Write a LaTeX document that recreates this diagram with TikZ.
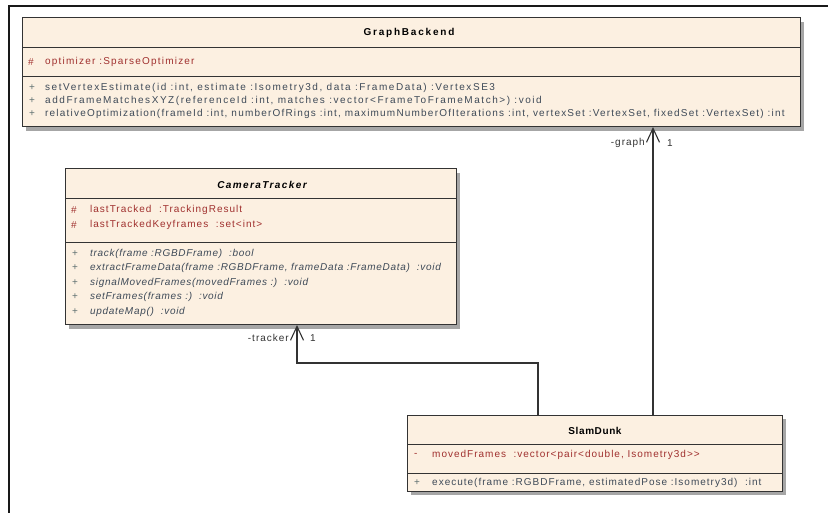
\documentclass[tikz,border=0pt]{standalone}
\usepackage{fontspec}
\setmainfont{Liberation Sans}
\newfontfamily\umlfont[LetterSpace=10]{Liberation Sans}
\newfontfamily\umlwidefont[LetterSpace=12]{Liberation Sans}
\newfontfamily\umlwiderfont[LetterSpace=15.5]{Liberation Sans}
\newfontfamily\umlitfont[LetterSpace=7]{Liberation Sans}
\newfontfamily\umltitlefont[LetterSpace=18]{Liberation Sans}
\newfontfamily\umlittitlefont[LetterSpace=14]{Liberation Sans}
\newfontfamily\umlsmalltitlefont[LetterSpace=6]{Liberation Sans}
\usetikzlibrary{arrows.meta,shadows}
\definecolor{classfill}{HTML}{FCF0E1}
\definecolor{classedge}{HTML}{333333}
\definecolor{attrtext}{HTML}{A0302E}
\definecolor{optext}{HTML}{3E4A58}
\definecolor{vistext}{HTML}{5E7070}
\tikzset{
  classbox/.style={draw=classedge, fill=classfill, line width=1pt, inner sep=0pt,
    outer sep=0pt, anchor=north west,
    drop shadow={shadow xshift=4pt, shadow yshift=-4pt, fill=black!35, opacity=1}},
  divider/.style={draw=classedge, line width=1pt},
  txt/.style={inner sep=0pt, anchor=west, font=\umlfont\fontsize{10}{12}\selectfont},
  wtxt/.style={txt, font=\umlwidefont\fontsize{10}{12}\selectfont},
  wwtxt/.style={txt, font=\umlwiderfont\fontsize{10}{12}\selectfont},
  itxt/.style={txt, font=\umlitfont\fontsize{10}{12}\selectfont\itshape},
  title/.style={inner sep=0pt, font=\umltitlefont\fontsize{10}{12}\selectfont\bfseries},
  vis/.style={txt, text=vistext},
  attr/.style={txt, text=attrtext},
  oper/.style={txt, text=optext},
  woper/.style={wtxt, text=optext},
  wwoper/.style={wwtxt, text=optext},
  ioper/.style={itxt, text=optext},
  assoc/.style={draw=classedge, line width=1.1pt,
    -{Straight Barb[length=14pt,width=13pt,line width=1.1pt]}},
  role/.style={inner sep=0pt, text=black!80, font=\umlfont\fontsize{10}{12}\selectfont},
}
\begin{document}
\begin{tikzpicture}[x=1pt,y=-1pt]
\useasboundingbox (0,0) rectangle (828,513);
\fill[white] (0,0) rectangle (828,513);
% diagram frame
\draw[line width=2pt, black!90] (9,513) -- (9,6) -- (828,6);

% ---------- GraphBackend ----------
\node[classbox, minimum width=778pt, minimum height=109pt] (gb) at (22,18) {};
\draw[divider] (gb.west |- 0,48) -- (gb.east |- 0,48);
\draw[divider] (gb.west |- 0,77) -- (gb.east |- 0,77);
\node[title] (gbname) at (409,33) {GraphBackend};
\node[vis, text=attrtext] (gbv1) at (28,62) {\#};
\node[attr, font=\umlwidefont\fontsize{10}{12}\selectfont] (gba1) at (45,62) {optimizer :SparseOptimizer};
\node[vis] (gbv2) at (29,88) {+};
\node[wwoper] (gbo1) at (45,88) {setVertexEstimate(id :int, estimate :Isometry3d, data :FrameData) :VertexSE3};
\node[vis] (gbv3) at (29,101) {+};
\node[wwoper] (gbo2) at (45,101) {addFrameMatchesXYZ(referenceId :int, matches :vector<FrameToFrameMatch>) :void};
\node[vis] (gbv4) at (29,114) {+};
\node[woper] (gbo3) at (45,114) {relativeOptimization(frameId :int, numberOfRings :int, maximumNumberOfIterations :int, vertexSet :VertexSet, fixedSet :VertexSet) :int};

% ---------- CameraTracker ----------
\node[classbox, minimum width=391pt, minimum height=156pt] (ct) at (65,169) {};
\draw[divider] (ct.west |- 0,199) -- (ct.east |- 0,199);
\draw[divider] (ct.west |- 0,243) -- (ct.east |- 0,243);
\node[title, font=\umlittitlefont\fontsize{10}{12}\selectfont\bfseries\itshape] (ctname) at (262,185) {CameraTracker};
\node[vis, text=attrtext] (ctv1) at (71,210) {\#};
\node[attr] (cta1) at (90,210) {lastTracked\ \ :TrackingResult};
\node[vis, text=attrtext] (ctv2) at (71,225) {\#};
\node[attr] (cta2) at (90,225) {lastTrackedKeyframes\ \ :set<int>};
\node[vis] (ctv3) at (72,254) {+};
\node[ioper] (cto1) at (90,254) {track(frame :RGBDFrame)\ \ :bool};
\node[vis] (ctv4) at (72,268) {+};
\node[ioper] (cto2) at (90,268) {extractFrameData(frame :RGBDFrame, frameData :FrameData)\ \ :void};
\node[vis] (ctv5) at (72,283) {+};
\node[ioper] (cto3) at (90,283) {signalMovedFrames(movedFrames :)\ \ :void};
\node[vis] (ctv6) at (72,297) {+};
\node[ioper] (cto4) at (90,297) {setFrames(frames :)\ \ :void};
\node[vis] (ctv7) at (72,312) {+};
\node[ioper] (cto5) at (90,312) {updateMap()\ \ :void};

% ---------- SlamDunk ----------
\node[classbox, minimum width=375pt, minimum height=76pt] (sd) at (407,415) {};
\draw[divider] (sd.west |- 0,444) -- (sd.east |- 0,444);
\draw[divider] (sd.west |- 0,473) -- (sd.east |- 0,473);
\node[title, font=\umlsmalltitlefont\fontsize{10}{12}\selectfont\bfseries] (sdname) at (595,431) {SlamDunk};
\node[vis, text=attrtext] (sdv1) at (414,455) {-};
\node[attr] (sda1) at (432,455) {movedFrames\ \ :vector<pair<double, Isometry3d>>};
\node[vis] (sdv2) at (414,483) {+};
\node[oper] (sdo1) at (432,483) {execute(frame :RGBDFrame, estimatedPose :Isometry3d)\ \ :int};

% ---------- associations ----------
\coordinate (gbport) at (653,127);
\coordinate (ctport) at (297,325);
\coordinate (bend) at (538,363);
\draw[assoc] (sd.north -| gbport) -- (gbport);
\draw[assoc] (sd.north -| bend) -- (bend) -| (ctport);
\node[role, anchor=east] (graphrole) at (645,143) {-graph};
\node[role, anchor=west] (graphmult) at (667,143) {1};
\node[role, anchor=east] (trackrole) at (289,338) {-tracker};
\node[role, anchor=west] (trackmult) at (310,338) {1};
\end{tikzpicture}
\end{document}
